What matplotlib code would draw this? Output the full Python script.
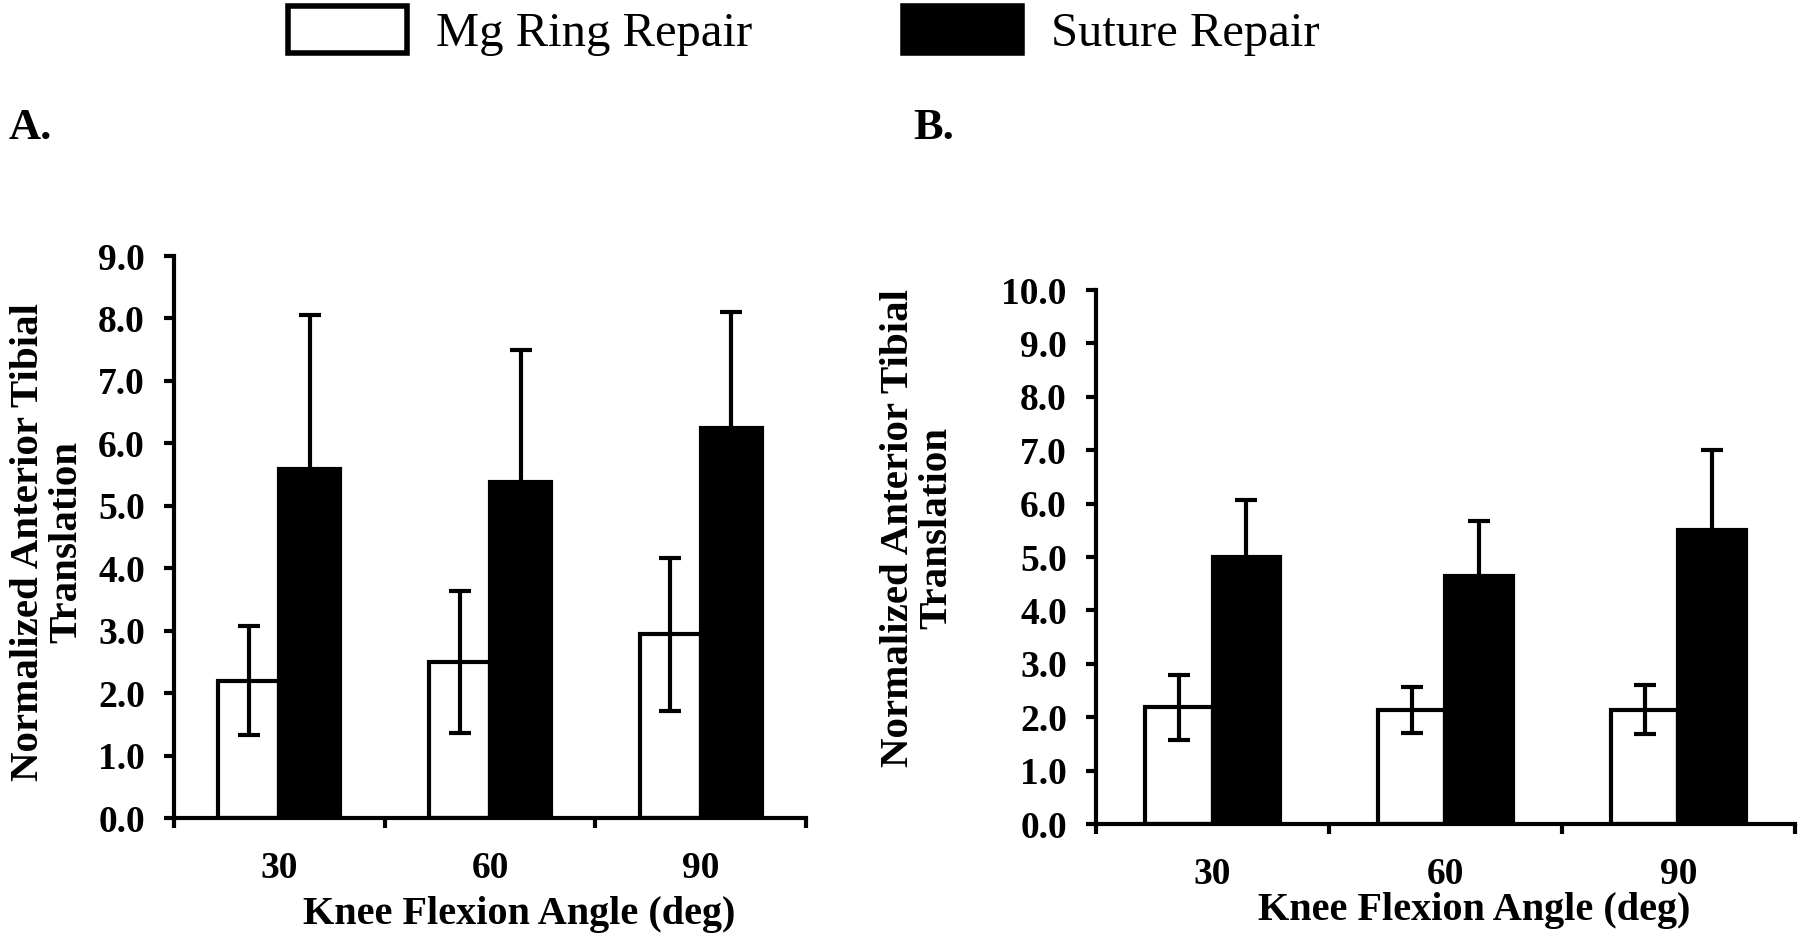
import matplotlib
matplotlib.use("Agg")
import matplotlib.pyplot as plt
import matplotlib.patches as mpatches
import numpy as np

plt.rcParams['font.family'] = ['Liberation Serif', 'DejaVu Serif']

categories = ["30", "60", "90"]
series_names = ["Mg Ring Repair", "Suture Repair"]

# Panel A
a_mg = [2.20, 2.50, 2.94]
a_mg_err = [0.87, 1.14, 1.23]
a_suture = [5.59, 5.38, 6.24]
a_suture_err = [2.46, 2.11, 1.86]

# Panel B
b_mg = [2.19, 2.14, 2.14]
b_mg_err = [0.61, 0.43, 0.46]
b_suture = [5.00, 4.64, 5.51]
b_suture_err = [1.06, 1.04, 1.49]

a_yticks = [0.0, 1.0, 2.0, 3.0, 4.0, 5.0, 6.0, 7.0, 8.0, 9.0]
b_yticks = [0.0, 1.0, 2.0, 3.0, 4.0, 5.0, 6.0, 7.0, 8.0, 9.0, 10.0]

ylabel = "Normalized Anterior Tibial\nTranslation"
xlabel = "Knee Flexion Angle (deg)"

fig = plt.figure(figsize=(18, 9.41), dpi=100)
axA = fig.add_axes([0.0967, 0.1307, 0.3511, 0.5972])
axB = fig.add_axes([0.6089, 0.1243, 0.3883, 0.5675])

LW = 3.0
W = 0.29
TFS = 27


def draw(ax, mg, mg_err, su, su_err, yticks, ylab_xy, xlab_xy):
    x = np.arange(len(categories)) + 0.5
    ax.bar(x - W / 2, mg, W, color='white', edgecolor='black', linewidth=LW, zorder=2)
    ax.bar(x + W / 2, su, W, color='black', edgecolor='black', linewidth=LW, zorder=2)
    ax.errorbar(x - W / 2, mg, yerr=mg_err, fmt='none', ecolor='black',
                elinewidth=LW, capsize=8, capthick=LW, zorder=3)
    ax.errorbar(x + W / 2, su, yerr=su_err, fmt='none', ecolor='black',
                elinewidth=LW, capsize=8, capthick=LW, zorder=3)
    ax.set_xlim(0, len(categories))
    ax.set_ylim(yticks[0], yticks[-1])
    ax.set_yticks(yticks)
    ax.set_yticklabels([f"{t:.1f}" for t in yticks], fontsize=TFS, fontweight='bold')
    ax.set_xticks(np.arange(len(categories) + 1))
    ax.set_xticklabels([])
    ax.set_xticks(x, minor=True)
    ax.set_xticklabels(categories, minor=True, fontsize=TFS, fontweight='bold')
    ax.tick_params(axis='x', which='minor', length=0, pad=24)
    ax.tick_params(axis='x', which='major', direction='out', length=7, width=LW)
    ax.tick_params(axis='y', direction='out', length=7, width=LW, pad=14)
    for s in ['top', 'right']:
        ax.spines[s].set_visible(False)
    for s in ['left', 'bottom']:
        ax.spines[s].set_linewidth(LW)
    ax.set_ylabel(ylabel, fontsize=29.5, fontweight='bold', linespacing=1.05)
    ax.yaxis.set_label_coords(*ylab_xy)
    ax.set_xlabel(xlabel, fontsize=29, fontweight='bold')
    ax.xaxis.set_label_coords(*xlab_xy)
    ax.xaxis.label.set_va('center')
    ax.yaxis.label.set_va('center')


draw(axA, a_mg, a_mg_err, a_suture, a_suture_err, a_yticks, (-0.2, 0.491), (0.546, -0.171))
draw(axB, b_mg, b_mg_err, b_suture, b_suture_err, b_yticks, (-0.255, 0.554), (0.541, -0.161))

fig.text(9 / 1800, 1 - 128 / 941, "A.", fontsize=32, fontweight='bold', va='center', ha='left')
fig.text(913 / 1800, 1 - 128 / 941, "B.", fontsize=32, fontweight='bold', va='center', ha='left')

handles = [mpatches.Patch(facecolor='white', edgecolor='black', linewidth=4),
           mpatches.Patch(facecolor='black', edgecolor='black', linewidth=4)]
fig.legend(handles, series_names, loc='upper left', bbox_to_anchor=(288 / 1800, 1 - 6 / 941),
           ncol=2, frameon=False, fontsize=35, handlelength=2.45, handleheight=1.1,
           handletextpad=0.6, columnspacing=3.1, borderpad=0, borderaxespad=0)

fig.savefig("out.png", dpi=100)
